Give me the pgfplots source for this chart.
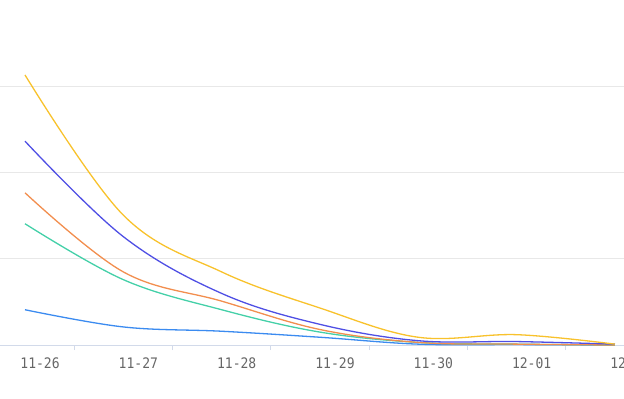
\documentclass[border=0pt]{standalone}
\usepackage{fontspec}
\usepackage{pgfplots}
\pgfplotsset{compat=1.18}
\newfontfamily\tickfont[FakeStretch=0.9]{DejaVu Sans Mono}
\definecolor{cyel}{HTML}{F8C22C}
\definecolor{cpur}{HTML}{4F4FE4}
\definecolor{cora}{HTML}{F28E4E}
\definecolor{ctea}{HTML}{44D0A8}
\definecolor{cblu}{HTML}{3B8BF0}
\definecolor{axisc}{HTML}{D2DAEA}
\definecolor{gridc}{HTML}{E8E8E8}
\definecolor{labc}{HTML}{666666}
\begin{document}
\begin{tikzpicture}
\useasboundingbox (0,0) rectangle (624pt,399pt);
\begin{axis}[
  at={(0pt,54pt)}, anchor=south west,
  scale only axis, width=624pt, height=345pt,
  xmin=-0.2542, xmax=6.092, ymin=0, ymax=4.0116,
  axis x line*=bottom, axis y line*=left,
  x axis line style={draw=axisc, line width=1pt},
  y axis line style={draw=none},
  xtick={0.5,1.5,2.5,3.5,4.5,5.5}, xticklabels={},
  tick align=outside, major tick length=5pt,
  x tick style={draw=axisc, line width=1pt},
  y tick style={draw=none},
  extra x ticks={0.153,1.153,2.153,3.153,4.153,5.153},
  extra x tick labels={11-26,11-27,11-28,11-29,11-30,12-01},
  extra x tick style={major tick length=0pt, tick style={draw=none},
    tick label style={font=\tickfont\fontsize{14.5pt}{16pt}\selectfont, text=labc, yshift=-9pt}},
  ytick={1,2,3}, yticklabels={}, ymajorgrids,
  y grid style={draw=gridc, line width=1pt},
  clip=false,
  every axis plot/.append style={line width=1.3pt, smooth, tension=0.6, no markers},
]
\addplot[cblu] coordinates {(0,0.41) (1,0.21) (2,0.16) (3,0.09) (4,0.01) (5,0.005) (6,0.0)};
\addplot[ctea] coordinates {(0,1.41) (1,0.76) (2,0.41) (3,0.15) (4,0.03) (5,0.01) (6,0.0)};
\addplot[cora] coordinates {(0,1.77) (1,0.85) (2,0.51) (3,0.18) (4,0.03) (5,0.01) (6,0.0)};
\addplot[cpur] coordinates {(0,2.37) (1,1.26) (2,0.60) (3,0.24) (4,0.05) (5,0.04) (6,0.01)};
\addplot[cyel] coordinates {(0,3.14) (1,1.51) (2,0.85) (3,0.43) (4,0.09) (5,0.12) (6,0.01)};
\node[font=\tickfont\fontsize{14.5pt}{16pt}\selectfont, text=labc, anchor=north, yshift=-9pt, inner sep=0.333em] at (axis cs:6.153,0) {12-02};
\end{axis}
\end{tikzpicture}
\end{document}
